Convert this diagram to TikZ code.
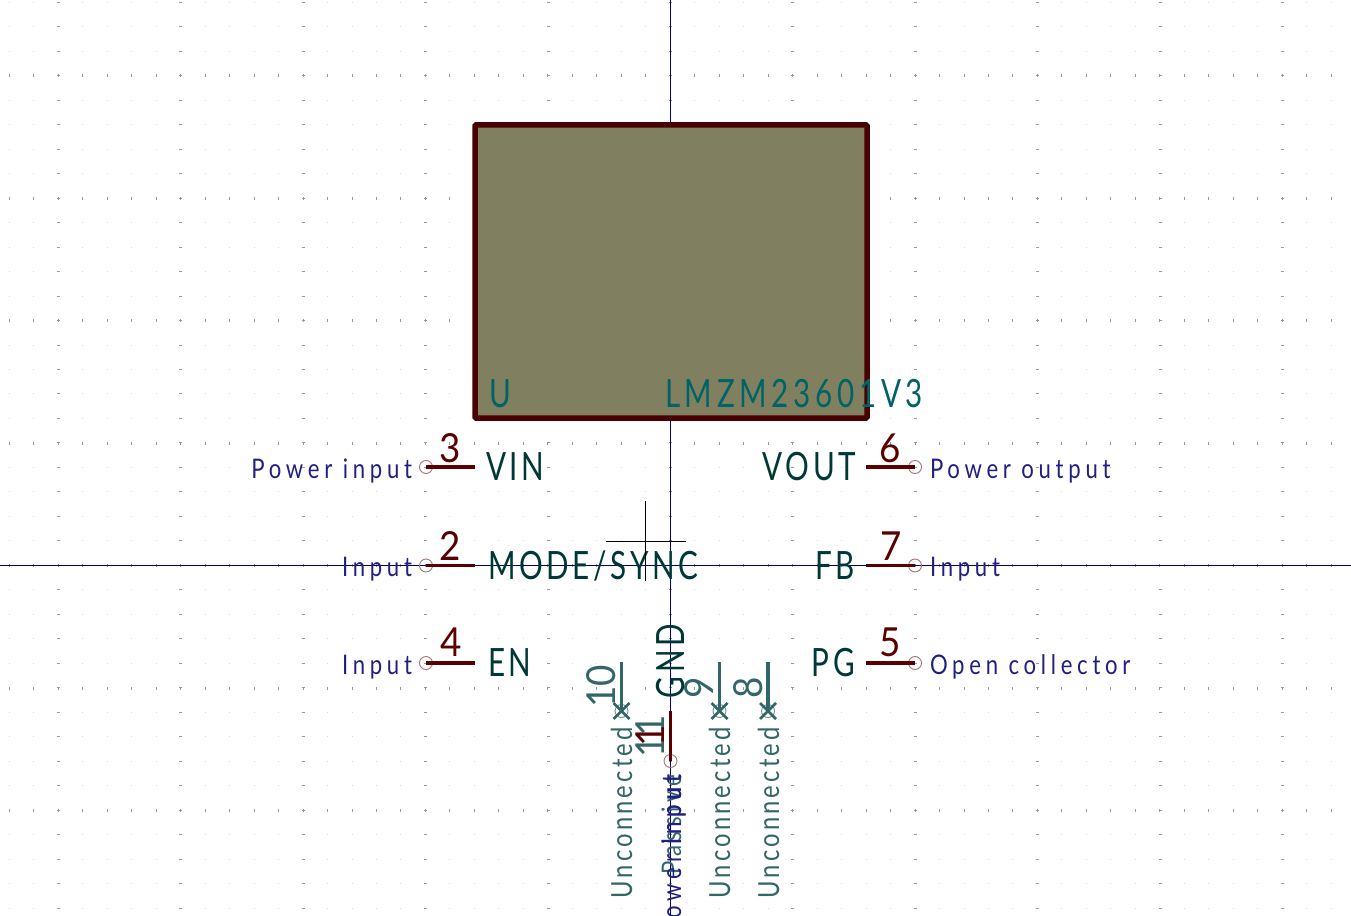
\documentclass[tikz,border=0pt]{standalone}
\usepackage{fontspec}
\setmainfont{Lato}
\newfontfamily\fl[LetterSpace=17.5,FakeStretch=0.82]{Lato}
\newfontfamily\fu[LetterSpace=11,FakeStretch=0.82]{Lato}
\newfontfamily\fn[LetterSpace=9.5,FakeStretch=0.76]{Lato}
\newfontfamily\fv[LetterSpace=12,FakeStretch=0.76]{Lato}
\newfontfamily\fd[FakeStretch=0.92]{Lato}
\definecolor{pinred}{HTML}{5A0000}
\definecolor{bodyline}{HTML}{480000}
\definecolor{bodyfill}{HTML}{808060}
\definecolor{nametxt}{HTML}{003838}
\definecolor{valtxt}{HTML}{006464}
\definecolor{typetxt}{HTML}{202080}
\definecolor{nctxt}{HTML}{336666}
\definecolor{axis}{HTML}{000088}
\tikzset{
 pinline/.style={draw=pinred,line width=3.2pt},
 ncline/.style={draw=nctxt,line width=3.2pt},
 endmark/.style={circle,draw=pinred!55!white,line width=.9pt,minimum size=13pt,inner sep=0pt},
 ncmark/.style={circle,draw=nctxt!70!white,line width=.9pt,minimum size=13pt,inner sep=0pt},
 lbl/.style={inner sep=0pt,outer sep=0pt},
 typel/.style={lbl,text=typetxt,font=\fl\fontsize{27}{27}\selectfont},
 ncl/.style={lbl,text=nctxt,font=\fu\fontsize{29}{29}\selectfont},
 namel/.style={lbl,text=nametxt,font=\fn\fontsize{39}{39}\selectfont},
 numl/.style={lbl,text=pinred,font=\fd\fontsize{40}{40}\selectfont},
 valuel/.style={lbl,text=valtxt,font=\fv\fontsize{39}{39}\selectfont},
}
\begin{document}
\begin{tikzpicture}[x=1pt,y=-1pt]
\useasboundingbox (0,0) rectangle (1351,915);
\fill[white] (0,0) rectangle (1351,915);
% grid
\foreach \i in {0,...,55}{\foreach \j in {0,...,37}{
  \fill[black!15] ({9.3+24.48*\i-.5},{2.3+24.48*\j-.5}) rectangle ++(1,1);
}}
\foreach \i in {0,...,55}{\foreach \j in {0,1,2,3,4,5,6}{
  \fill[black!40] ({9.3+24.48*\i-.5},{76+122.4*\j-1.5}) rectangle ++(1,3);
}}
\foreach \i in {0,...,10}{\foreach \j in {0,...,37}{
  \fill[black!40] ({58.4+122.4*\i-1.5},{2.3+24.48*\j-.5}) rectangle ++(3,1);
}}
% axes
\coordinate (axT) at (670.5,0); \coordinate (axB) at (670.5,915);
\coordinate (axL) at (0,565.5); \coordinate (axR) at (1351,565.5);
\draw[axis,line width=1pt] (axT)--(axB);
\draw[axis!75!black,line width=1pt] (axL)--(axR);
% body
\node[draw=bodyline,fill=bodyfill,line width=5.5pt,rounded corners=1pt,minimum width=392pt,minimum height=293pt,inner sep=0pt,outer sep=0pt,anchor=north west] (body) at (475,125) {};
% pins
\foreach \n/\y in {vin/467,mode/565.5,en/663}{
  \coordinate (\n B) at (475,\y);
  \node[endmark] (\n E) at (426,\y) {};
  \draw[pinline] (\n B)--(\n E.center);
}
\foreach \n/\y in {vout/467,fb/565.5,pg/663}{
  \coordinate (\n B) at (866,\y);
  \node[endmark] (\n E) at (915,\y) {};
  \draw[pinline] (\n B)--(\n E.center);
}
\coordinate (gndB) at (670.5,711);
\node[endmark] (gndE) at (670.5,761) {};
\draw[pinline] (gndB)--(gndE.center);
\foreach \n/\x in {ten/621.5,nine/719.5,eight/768}{
  \coordinate (\n B) at (\x,662);
  \node[ncmark] (\n E) at (\x,711) {};
  \draw[ncline] (\n B)--(\n E.center);
  \draw[nctxt,line width=2.8pt] ([shift={(-8,-8)}]\n E.center)--([shift={(8,8)}]\n E.center) ([shift={(-8,8)}]\n E.center)--([shift={(8,-8)}]\n E.center);
}
% component texts
\node[valuel,anchor=base west] (ref) at (489,407) {U};
\node[valuel,anchor=base west] (val) at (665,407) {LMZM23601V3};
% names
\node[namel,anchor=base west] (nVIN) at (486,480) {VIN};
\node[namel,anchor=base west] (nMODE) at (488,579) {MODE/SYNC};
\node[namel,anchor=base west] (nEN) at (488,676) {EN};
\node[namel,anchor=base east] (nVOUT) at (856,480) {VOUT};
\node[namel,anchor=base east] (nFB) at (855,579) {FB};
\node[namel,anchor=base east] (nPG) at (855,676) {PG};
\node[namel,anchor=base west,rotate=90] (nGND) at (684,698) {GND};
% numbers
\node[numl,anchor=base] (p3) at (450,462) {3};
\node[numl,anchor=base] (p2) at (450,560) {2};
\node[numl,anchor=base] (p4) at (451,656) {4};
\node[numl,anchor=base] (p6) at (890.5,462) {6};
\node[numl,anchor=base] (p7) at (891,560) {7};
\node[numl,anchor=base] (p5) at (890.5,656) {5};
\node[numl,anchor=base,rotate=90,text=nctxt] (p10) at (615,686.5) {10};
\node[numl,anchor=base,rotate=90,text=nctxt] (p11) at (664,736) {11};
\node[numl,anchor=base,rotate=90] (p1) at (664,736) {1};
\node[numl,anchor=base,rotate=90,text=nctxt] (p9) at (713,688) {9};
\node[numl,anchor=base,rotate=90,text=nctxt] (p8) at (762,688) {8};
% types
\node[typel,anchor=base east] (tVIN) at (412,478) {Power input};
\node[typel,anchor=base east] (tMODE) at (412,576) {Input};
\node[typel,anchor=base east] (tEN) at (412,674) {Input};
\node[typel,anchor=base west] (tVOUT) at (930,478) {Power output};
\node[typel,anchor=base west] (tFB) at (930,576) {Input};
\node[typel,anchor=base west] (tPG) at (930,674) {Open collector};
\node[ncl,anchor=base east,rotate=90] (t10) at (632,727) {Unconnected};
\node[ncl,anchor=base east,rotate=90] (t9) at (730,727) {Unconnected};
\node[ncl,anchor=base east,rotate=90] (t8) at (779,727) {Unconnected};
\node[typel,text=nctxt,anchor=base east,rotate=90] (tG0) at (681,775) {Passive};
\node[typel,anchor=base east,rotate=90] (tG1) at (681,775) {Power input};
\node[typel,anchor=base east,rotate=90] (tG2) at (681,775) {Input};
% cursor
\coordinate (cT) at (645.5,501); \coordinate (cB) at (645.5,581);
\coordinate (cL) at (606,541.5); \coordinate (cR) at (686,541.5);
\draw[black,line width=.8pt] (cT)--(cB) (cL)--(cR);
\end{tikzpicture}
\end{document}
